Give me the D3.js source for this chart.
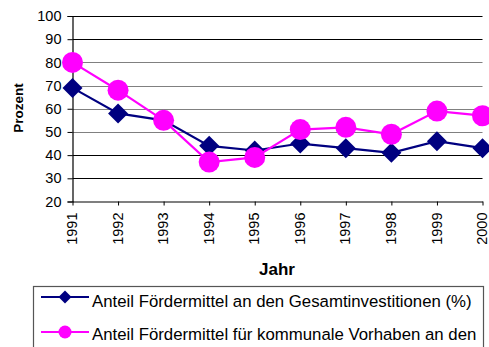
<!DOCTYPE html>
<html>
<head>
<meta charset="utf-8">
<script src="https://cdn.jsdelivr.net/npm/d3@7"></script>
<style>
  html, body { margin: 0; padding: 0; background: #fff; }
  svg { display: block; font-family: "Liberation Sans", Arial, sans-serif; }
</style>
</head>
<body>
<svg id="chart" width="489" height="347"></svg>
<script>
// Jahre und Anteile (Prozent)
const years = ["1991", "1992", "1993", "1994", "1995", "1996", "1997", "1998", "1999", "2000"];
const anteilGesamt = [69, 58, 55, 44, 42, 45, 43, 41, 46, 43];
const anteilKommunal = [80, 68, 55, 37, 39, 51, 52, 49, 59, 57];
const yTicks = [20, 30, 40, 50, 60, 70, 80, 90, 100];
// Legendentexte, in Zeilen umbrochen
const seriesNames = [
  ["Anteil Fördermittel an den Gesamtinvestitionen (%)"],
  ["Anteil Fördermittel für kommunale Vorhaben an den", "Gesamtinvestitionen (%)"]
];

const W = 489, H = 347;
const svg = d3.select("#chart");
const plot = { left: 72.5, right: 482.5, top: 16, bottom: 201.5 };

const x = d3.scalePoint().domain(years).range([plot.left, plot.right]);
const y = d3.scaleLinear().domain([20, 100]).range([plot.bottom, plot.top]);

// Gitterlinien
const gridColor = v => (v >= 50 && v <= 80) ? "#808080" : "#000";
svg.append("g").selectAll("line")
  .data(yTicks.filter(v => v > 20))
  .join("line")
  .attr("x1", plot.left).attr("x2", plot.right)
  .attr("y1", d => Math.round(y(d)) + 0.5).attr("y2", d => Math.round(y(d)) + 0.5)
  .attr("stroke", gridColor).attr("stroke-width", 1.2);

// Y-Achse
const yAxis = svg.append("g")
  .attr("transform", `translate(${plot.left},0)`)
  .call(d3.axisLeft(y).tickValues(yTicks).tickSize(5).tickPadding(6));
yAxis.select(".domain").attr("stroke", "#000").attr("stroke-width", 1.2);
yAxis.selectAll(".tick line").attr("stroke", "#000");
yAxis.selectAll("text").attr("font-size", "14.5px").attr("fill", "#000")
  .attr("font-family", "Liberation Sans, Arial, sans-serif");

// X-Achse
const xAxis = svg.append("g")
  .attr("transform", `translate(0,${plot.bottom})`)
  .call(d3.axisBottom(x).tickSize(4).tickSizeOuter(0));
xAxis.select(".domain").attr("stroke", "#000").attr("stroke-width", 1.2);
xAxis.selectAll(".tick line").attr("stroke", "#000");
xAxis.selectAll("text")
  .attr("font-size", "14.5px").attr("fill", "#000")
  .attr("font-family", "Liberation Sans, Arial, sans-serif")
  .attr("transform", "rotate(-90)")
  .attr("text-anchor", "end")
  .attr("x", -11).attr("y", -1).attr("dy", "0.35em");

// Achsentitel
svg.append("text")
  .attr("x", 277).attr("y", 275)
  .attr("text-anchor", "middle")
  .attr("font-size", "17px").attr("font-weight", "bold")
  .text("Jahr");
svg.append("text")
  .attr("transform", "translate(23,108) rotate(-90)")
  .attr("text-anchor", "middle")
  .attr("font-size", "13.5px").attr("font-weight", "bold")
  .text("Prozent");

// Linien und Marker
const line = d3.line().x((d, i) => x(years[i])).y(d => y(d));

function drawSeries(values, color, shape, size) {
  const g = svg.append("g");
  g.append("path").datum(values)
    .attr("d", line).attr("fill", "none")
    .attr("stroke", color).attr("stroke-width", 2.2);
  if (shape === "diamond") {
    g.selectAll("path.m").data(values).join("path").attr("class", "m")
      .attr("d", d3.symbol().type(d3.symbolSquare).size(size * size * 2)())
      .attr("transform", (d, i) => `translate(${x(years[i])},${y(d)}) rotate(45)`)
      .attr("fill", color);
  } else {
    g.selectAll("circle").data(values).join("circle")
      .attr("cx", (d, i) => x(years[i])).attr("cy", d => y(d))
      .attr("r", size).attr("fill", color);
  }
}
drawSeries(anteilGesamt, "#000080", "diamond", 10);
drawSeries(anteilKommunal, "#FF00FF", "circle", 10.5);

// Legende (reicht über den unteren Rand hinaus)
const legend = svg.append("g");
legend.append("rect")
  .attr("x", 33.5).attr("y", 286.5).attr("width", 450).attr("height", 100)
  .attr("fill", "#fff").attr("stroke", "#555").attr("stroke-width", 1.2);
const legendItems = [
  { lines: seriesNames[0], color: "#000080", shape: "diamond", yy: 297, base: 307 },
  { lines: seriesNames[1], color: "#FF00FF", shape: "circle", yy: 332, base: 339.5 }
];
legendItems.forEach(it => {
  legend.append("line")
    .attr("x1", 41).attr("x2", 89).attr("y1", it.yy).attr("y2", it.yy)
    .attr("stroke", it.color).attr("stroke-width", 2.2);
  if (it.shape === "diamond") {
    legend.append("path")
      .attr("d", d3.symbol().type(d3.symbolSquare).size(6.5 * 6.5 * 2)())
      .attr("transform", `translate(65,${it.yy}) rotate(45)`)
      .attr("fill", it.color);
  } else {
    legend.append("circle").attr("cx", 65).attr("cy", it.yy).attr("r", 6.5).attr("fill", it.color);
  }
  const t = legend.append("text")
    .attr("font-size", "16.8px").attr("fill", "#000");
  // nur Zeilen zeichnen, die noch innerhalb der Fläche liegen
  it.lines
    .map((s, k) => ({ s, yy: it.base + k * 22 }))
    .filter(d => d.yy < H)
    .forEach(d => t.append("tspan").attr("x", 92).attr("y", d.yy).text(d.s));
});
</script>
</body>
</html>
